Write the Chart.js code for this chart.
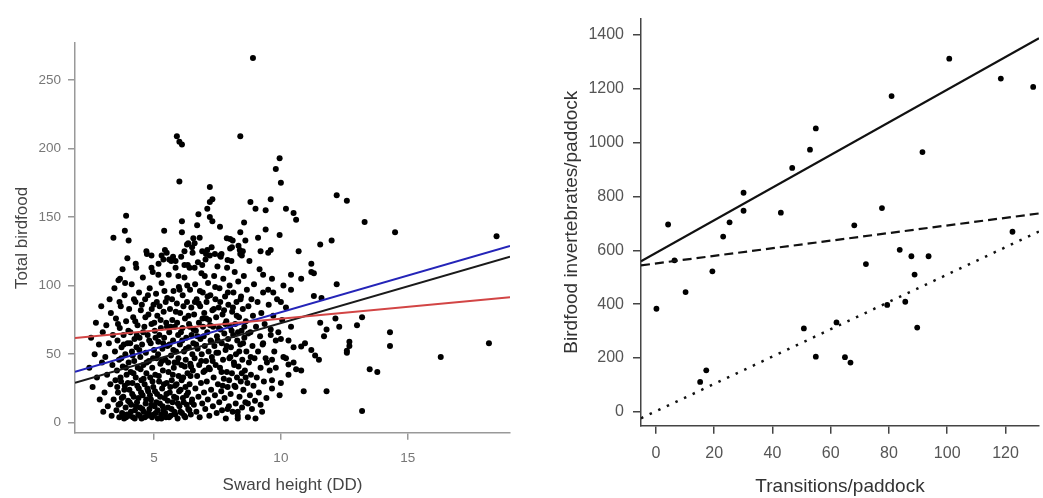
<!DOCTYPE html>
<html>
<head>
<meta charset="utf-8">
<script src="https://cdn.jsdelivr.net/npm/chart.js@4/dist/chart.umd.min.js"></script>
<style>
html, body { margin: 0; padding: 0; background: #fff; overflow: hidden; }
#leftChart { position: absolute; left: 0; top: 0; }
#rightChart { position: absolute; left: 540px; top: 0; }
</style>
</head>
<body>
<canvas id="leftChart" width="525" height="498"></canvas>
<canvas id="rightChart" width="503" height="498"></canvas>
<script>
// ---- left panel: sward height vs total birdfood ----
var swardTicks = [5, 10, 15];
var birdfoodTicks = [0, 50, 100, 150, 200, 250];

var swardPoints = [
    // sparse upper / right points
    [8.9,266],[5.9,209],[6.0,205],[6.1,203],[8.4,209],[6.0,176],[3.9,151],[3.85,140],[4.0,133],[3.4,135],
    [7.2,172],[7.3,163],[7.2,161],[7.1,156],[7.2,150],[7.3,147],[6.1,147],[6.1,139],[6.75,152],[6.7,144],
    [5.4,140],[7.6,143],[8.8,161],[9.0,156],[9.4,155],[9.6,163],[9.8,185],[9.95,193],[10.0,175],[8.4,139],
    [8.55,146],[8.0,134],[8.1,133],[9.4,141],[9.1,135],[8.6,133],[6.8,135],[6.6,131],[4.7,125],[4.9,122],
    [5.3,122],[6.2,125],[6.3,130],[6.9,125],[7.05,123],[7.2,122],[7.6,122],[8.0,127],[8.4,123],[8.5,125],
    [9.2,125],[9.6,126],[10.2,156],[10.5,153],[10.6,148],[12.2,166],[12.6,162],[9.95,137],[13.3,146.5],[14.5,139],
    [11.55,130],[12.0,133],[10.7,125],[18.5,136],[9.5,124],[11.2,116],[11.2,110],[11.3,109],[9.3,108],[9.65,105],
    [9.5,97],[9.7,95],[10.1,100],[10.4,108],[10.4,97],[10.8,105],[10.0,88],[11.3,92.5],[11.6,91],[12.2,101],
    [12.15,76],[12.3,70],[13.0,71],[13.2,77],[11.55,73],[11.8,68],[11.7,63],[12.7,59],[12.7,56],[12.6,52.5],
    [12.6,51],[14.3,66],[14.3,56],[16.3,48],[18.2,58],[10.8,55.5],[10.95,58],[11.2,53],[11.35,49],[11.5,46],
    [10.0,61],[10.3,60],[9.6,64],[9.8,60],[13.5,39],[13.8,37],[9.65,31],[10.0,29],[10.9,23],[11.8,23],
    [9.2,13],[13.2,8.5],[9.3,58],[9.65,46],[9.45,44],[10.2,47],[10.5,44],[10.3,42.5],[10.6,39],[10.8,38],
    [9.0,3],[8.3,3],[8.3,8],[8.7,14],[7.9,10],
    [4.28,116],[4.9,113],[5.17,108],[5.37,119],[3.66,105],[3.86,102],[6.2,115],[6.4,113],[6.6,113],[6.9,115],
    [6.35,131],[6.55,134.5],[6.5,128],[5.96,107],[7.0,107],[7.87,134.5],[8.07,128],[8.33,129],[8.46,122],[7.66,123],
    [7.9,118.6],[7.1,126],[7.4,123],[5.5,124],[5.6,119],[5.75,121],[5.85,118],
    // dense cloud
    [2.45,40],[2.52,62],[2.58,26],[2.66,50],[2.71,73],[2.75,33],[2.83,57],[2.86,17],[2.92,85],[2.95,44],[2.98,66],[3.0,8],
    [3.05,22],[3.08,48],[3.12,71],[3.15,35],[3.18,12],[3.22,58],[3.25,90],[3.28,28],[3.3,80],[3.33,5],[3.36,42],[3.38,64],
    [3.41,17],[3.44,98],[3.46,52],[3.48,31],[3.5,76],
    [3.52,9],[3.54,38],[3.56,60],[3.58,22],[3.6,104],[3.62,46],[3.63,4],[3.65,69],[3.67,14],[3.69,85],[3.7,30],[3.72,55],
    [3.74,7],[3.76,112],[3.77,41],[3.79,19],[3.8,64],[3.82,3],[3.84,93],[3.85,27],[3.87,50],[3.88,11],[3.9,74],[3.92,35],
    [3.94,6],[3.95,120],[3.96,58],[3.98,16],[4.0,44],
    [4.02,83],[4.03,24],[4.05,5],[4.07,66],[4.08,37],[4.1,13],[4.12,101],[4.13,52],[4.15,29],[4.17,4],[4.18,77],[4.2,19],
    [4.22,45],[4.23,61],[4.25,9],[4.27,88],[4.28,33],[4.3,113],[4.31,55],[4.33,15],[4.35,71],[4.36,40],[4.38,6],[4.4,25],
    [4.41,95],[4.43,62],[4.45,11],[4.46,48],[4.48,82],[4.5,31],
    [4.51,3],[4.53,57],[4.55,20],[4.56,106],[4.58,42],[4.6,8],[4.62,70],[4.63,28],[4.65,90],[4.67,14],[4.68,51],[4.7,36],
    [4.72,123],[4.73,5],[4.75,64],[4.77,23],[4.78,79],[4.8,45],[4.82,10],[4.83,98],[4.85,33],[4.87,58],[4.88,17],[4.9,72],
    [4.92,4],[4.93,40],[4.95,110],[4.97,26],[4.98,86],[5.0,53],
    [5.02,12],[5.03,67],[5.05,35],[5.07,7],[5.08,94],[5.1,47],[5.12,21],[5.13,78],[5.15,3],[5.17,59],[5.18,116],[5.2,30],
    [5.22,85],[5.23,14],[5.25,43],[5.27,69],[5.28,6],[5.3,102],[5.32,25],[5.33,54],[5.35,38],[5.37,9],[5.38,81],[5.4,62],
    [5.42,18],[5.43,126],[5.45,46],[5.47,4],[5.48,73],[5.5,29],
    [5.52,91],[5.53,56],[5.55,11],[5.57,37],[5.58,108],[5.6,66],[5.62,22],[5.63,83],[5.65,5],[5.67,49],[5.68,118],[5.7,31],
    [5.72,75],[5.73,15],[5.75,60],[5.77,96],[5.78,40],[5.8,8],[5.82,70],[5.83,27],[5.85,113],[5.87,52],[5.88,18],[5.9,87],
    [5.92,44],[5.93,3],[5.95,64],[5.97,34],[5.98,99],[6.0,12],
    [6.02,57],[6.03,80],[6.05,24],[6.07,121],[6.08,42],[6.1,7],[6.12,69],[6.13,93],[6.15,33],[6.17,15],[6.18,52],[6.2,106],
    [6.22,76],[6.23,4],[6.25,46],[6.27,62],[6.28,20],[6.3,88],[6.32,36],[6.33,115],[6.35,10],[6.37,55],[6.38,72],[6.4,28],
    [6.42,97],[6.43,43],[6.45,6],[6.47,84],[6.48,64],[6.5,17],
    [6.52,124],[6.53,38],[6.55,58],[6.57,13],[6.58,79],[6.6,47],[6.62,101],[6.63,25],[6.65,67],[6.67,8],[6.68,90],[6.7,34],
    [6.72,54],[6.73,117],[6.75,19],[6.77,73],[6.78,42],[6.8,4],[6.82,85],[6.83,61],[6.85,29],[6.87,109],[6.88,50],[6.9,14],
    [6.92,95],[6.93,70],[6.95,37],[6.97,22],[6.98,80],[7.0,56],
    [7.02,10],[7.03,119],[7.05,45],[7.07,88],[7.08,30],[7.1,66],[7.12,17],[7.13,102],[7.15,52],[7.17,75],[7.18,5],[7.2,39],
    [7.22,93],[7.23,60],[7.25,24],[7.27,128],[7.28,48],[7.3,82],[7.32,12],[7.33,70],[7.35,33],[7.37,107],[7.38,56],[7.4,20],
    [7.42,90],[7.43,42],[7.45,77],[7.47,7],[7.48,63],[7.5,114],
    [7.52,28],[7.53,51],[7.55,84],[7.57,15],[7.58,98],[7.6,40],[7.62,68],[7.63,121],[7.65,23],[7.67,58],[7.68,9],[7.7,79],
    [7.72,46],[7.73,105],[7.75,32],[7.77,65],[7.78,18],[7.8,92],[7.82,53],[7.83,3],[7.85,74],[7.87,37],[7.88,113],[7.9,26],
    [7.92,61],[7.93,86],[7.95,12],[7.97,47],[7.98,100],[8.0,70],
    [8.02,21],[8.03,55],[8.05,118],[8.07,36],[8.08,81],[8.1,8],[8.12,64],[8.13,95],[8.15,44],[8.17,27],[8.18,110],[8.2,72],
    [8.22,14],[8.23,50],[8.25,88],[8.27,33],[8.28,60],[8.3,5],[8.32,103],[8.33,41],[8.35,77],[8.37,19],[8.38,126],[8.4,57],
    [8.42,30],[8.43,92],[8.45,67],[8.47,11],[8.48,46],[8.5,83],
    [8.52,24],[8.54,107],[8.56,62],[8.58,38],[8.6,15],[8.62,74],[8.64,52],[8.66,97],[8.68,29],[8.7,4],[8.72,85],[8.74,44],
    [8.76,118],[8.78,20],[8.8,66],[8.82,35],[8.84,90],[8.86,10],[8.88,56],[8.9,78],[8.92,27],[8.94,101],[8.96,47],[8.98,16],
    [9.02,70],[9.05,33],[9.08,88],[9.1,52],[9.13,22],[9.16,112],[9.18,63],[9.2,40],[9.23,80],[9.26,8],[9.28,57],[9.3,95],
    [9.33,30],[9.36,72],[9.4,47],[9.43,18],
    [9.52,86],[9.56,38],[9.6,68],[9.65,25],[9.7,78],[9.74,52],[9.8,40],[9.85,90],[9.9,66],[9.95,20],[10.05,75],[10.1,48],
    [10.2,84],[10.3,35],[10.4,70],[10.5,55],
    // extra density near the floor
    [3.55,26],[3.6,13],[3.68,33],[3.73,18],[3.78,6],[3.83,24],[3.9,4],[3.97,29],[4.04,15],[4.09,8],[4.14,21],[4.19,36],
    [4.24,3],[4.29,12],[4.34,27],[4.39,18],[4.44,5],[4.49,22],[4.54,10],[4.59,32],[4.64,4],[4.69,17],[4.74,25],[4.79,7],
    [4.84,20],[4.89,13],[4.94,30],[4.99,6],[5.04,23],[5.09,15],[5.14,9],[5.19,34],[5.24,19],[5.29,3],[5.34,12],[5.39,28],
    [5.44,7],[5.49,21],[5.54,16],[5.59,4],[5.64,26],[5.69,10],[5.74,35],[5.79,19],[5.84,6],[5.89,28],[5.94,14],[5.99,23],
    [6.04,8],[6.09,31],[6.14,18],[6.19,5],[6.24,26],[6.29,13],[6.34,22],[6.39,9],[6.44,34],[6.49,15],
    // core band
    [5.06,62],[5.16,50],[5.26,75],[5.36,58],[5.46,88],[5.56,44],[5.66,70],[5.76,53],[5.86,81],[5.96,47],[6.06,66],[6.16,85],
    [6.26,54],[6.36,78],[6.46,41],[6.56,68],[6.66,57],[6.76,87],[6.86,45],[6.96,63],[7.06,76],[7.16,40],[7.26,59],[7.36,83],
    [7.46,51],[7.56,69],[7.66,37],[7.76,82],[7.86,56],[7.96,31],[8.06,67],[8.16,42],[8.26,78],[8.36,52],[8.46,36],[8.56,70],
    [3.58,72],[3.64,88],[3.71,47],[3.81,57],[3.89,40],[3.99,67],[4.06,58],[4.16,49],[4.21,90],[4.26,74],[4.32,64],[4.42,53],
    [4.47,39],[4.52,86],[4.57,66],[4.66,77],[4.71,44],[4.76,93],[4.81,60],[4.91,83],[4.96,47],[5.01,73],[5.11,88],[5.21,64],
    [5.31,45],[5.41,96],[5.51,70],[5.61,57],[5.71,90],[5.81,44],[5.91,73],[6.01,97],[6.11,60],[6.21,41],[6.31,100],[6.41,70],
    [6.51,50],[6.61,88],[6.71,63],[6.81,96],[6.91,76],[7.01,38],[7.11,92],[7.21,71],[7.31,45],[7.41,99],[7.51,60],[7.61,88],
    [7.71,27],[7.81,72],[7.91,95],[8.01,48],[8.11,84],[8.21,26],[8.31,66],[8.41,90],[8.51,58],[8.61,33],[8.71,65],[8.81,48]
];

// fitted lines, value at the left and right edge of the plot
var swardFitX = [1.886, 19.03];
var redFit = [61.7, 91.5];
var blueFit = [37.2, 128.9];
var blackFit = [29.2, 121.1];

// ---- right panel: transitions vs birdfood invertebrates ----
var transitionTicks = [0, 20, 40, 60, 80, 100, 120];
var invertTicks = [0, 200, 400, 600, 800, 1000, 1200, 1400];

var transitions = [0.2, 4.2, 6.4, 10.2, 15.2, 17.3, 19.4, 23.1, 25.3, 30.1, 30.1, 42.9, 46.8, 50.8, 52.9, 54.9, 54.9, 62,
    64.9, 66.8, 68.1, 72.1, 77.6, 79.4, 80.9, 83.7, 85.6, 87.7, 88.8, 89.7, 91.5, 93.6, 100.7, 118.4, 122.4, 129.5];
var invertebrates = [383, 696, 563, 445, 111, 154, 522, 651, 704, 814, 747, 740, 906, 310, 974, 1053, 205, 332,
    203, 183, 693, 549, 757, 397, 1173, 602, 409, 578, 510, 313, 965, 578, 1312, 1238, 669, 1207];

var transFitX = [-5.1, 131.5];
var solidFit = [559, 1388];
var dashedFit = [544, 737];
var dottedFit = [-24, 670];

var fontFamily = '"Liberation Sans", Arial, sans-serif';
Chart.defaults.font.family = fontFamily;

function fitLine(xs, ys) {
    var pts = [];
    for (var i = 0; i < xs.length; i++) {
        pts.push({ x: xs[i], y: ys[i] });
    }
    return pts;
}

function fixedTicks(values) {
    return function (axis) {
        axis.ticks = values.map(function (v) { return { value: v }; });
    };
}

function plainLabel(value) {
    return String(value);
}

function lineSet(xs, ys, color, dash, width) {
    return {
        data: fitLine(xs, ys),
        showLine: true,
        borderColor: color,
        borderWidth: width,
        borderDash: dash,
        pointRadius: 0,
        order: 0
    };
}

var leftPts = [];
for (var i = 0; i < swardPoints.length; i++) {
    leftPts.push({ x: swardPoints[i][0], y: swardPoints[i][1] });
}

new Chart(document.getElementById('leftChart'), {
    type: 'scatter',
    data: {
        datasets: [
            lineSet(swardFitX, redFit, '#d24545', [], 2),
            lineSet(swardFitX, blackFit, '#1a1a1a', [], 2),
            lineSet(swardFitX, blueFit, '#2424b8', [], 2),
            {
                data: leftPts,
                pointRadius: 3,
                pointBackgroundColor: '#000',
                pointBorderWidth: 0,
                order: 5
            }
        ]
    },
    options: {
        responsive: false,
        animation: false,
        plugins: { legend: { display: false }, tooltip: { enabled: false } },
        layout: { padding: { top: 43, right: 15, left: 0, bottom: 0 } },
        scales: {
            x: {
                type: 'linear',
                min: 1.886,
                max: 19.03,
                afterBuildTicks: fixedTicks(swardTicks),
                afterFit: function (s) { s.height = 65.3; },
                grid: { drawOnChartArea: false, color: '#999', tickColor: '#999', tickLength: 7, lineWidth: 1.5 },
                border: { color: '#999', width: 1.5 },
                ticks: { color: '#777', font: { size: 13.5 }, padding: 10, callback: plainLabel },
                title: { display: true, text: 'Sward height (DD)', color: '#444', font: { size: 17 }, padding: { top: 0, bottom: 2 } }
            },
            y: {
                type: 'linear',
                min: -7.3,
                max: 277,
                afterBuildTicks: fixedTicks(birdfoodTicks),
                afterFit: function (s) { s.width = 75; },
                grid: { drawOnChartArea: false, color: '#999', tickColor: '#999', tickLength: 7, lineWidth: 1.5 },
                border: { color: '#999', width: 1.5 },
                ticks: { color: '#777', font: { size: 13.5 }, padding: 7, callback: plainLabel },
                title: { display: true, text: 'Total birdfood', color: '#444', font: { size: 17 }, padding: { top: 12, bottom: 0 } }
            }
        }
    }
});

var rightPts = [];
for (var j = 0; j < transitions.length; j++) {
    rightPts.push({ x: transitions[j], y: invertebrates[j] });
}

new Chart(document.getElementById('rightChart'), {
    type: 'scatter',
    data: {
        datasets: [
            lineSet(transFitX, solidFit, '#111', [], 2.2),
            lineSet(transFitX, dashedFit, '#111', [9, 5], 2.2),
            lineSet(transFitX, dottedFit, '#111', [2.5, 7], 2.5),
            {
                data: rightPts,
                pointRadius: 2.9,
                pointBackgroundColor: '#000',
                pointBorderWidth: 0,
                order: 5
            }
        ]
    },
    options: {
        responsive: false,
        animation: false,
        plugins: { legend: { display: false }, tooltip: { enabled: false } },
        layout: { padding: { top: 13, right: 0, left: 0, bottom: 0 } },
        scales: {
            x: {
                type: 'linear',
                min: -5.1,
                max: 131.5,
                afterBuildTicks: fixedTicks(transitionTicks),
                afterFit: function (s) { s.height = 498 - 425.7; },
                grid: { drawOnChartArea: false, color: '#444', tickColor: '#444', tickLength: 8, lineWidth: 1.5 },
                border: { color: '#444', width: 1.5 },
                ticks: { color: '#555', font: { size: 16 }, padding: 10, callback: plainLabel },
                title: { display: true, text: 'Transitions/paddock', color: '#333', font: { size: 19 }, padding: { top: 0, bottom: 0 } }
            },
            y: {
                type: 'linear',
                min: -51.6,
                max: 1461,
                afterBuildTicks: fixedTicks(invertTicks),
                afterFit: function (s) { s.width = 101; },
                grid: { drawOnChartArea: false, color: '#444', tickColor: '#444', tickLength: 8, lineWidth: 1.5 },
                border: { color: '#444', width: 1.5 },
                ticks: { color: '#555', font: { size: 16 }, padding: 9, callback: plainLabel },
                title: { display: true, text: 'Birdfood invertebrates/paddock', color: '#333', font: { size: 19 }, padding: { top: 20, bottom: 0 } }
            }
        }
    }
});
</script>
</body>
</html>
